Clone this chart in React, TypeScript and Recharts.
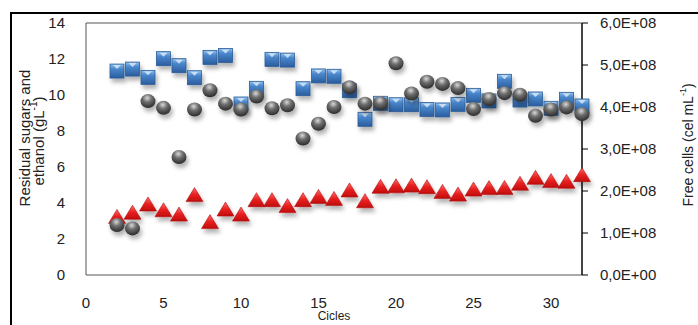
import React from 'react'
import { ScatterChart, Scatter, XAxis, YAxis, ReferenceArea } from 'recharts'

const cycles = [2, 3, 4, 5, 6, 7, 8, 9, 10, 11, 12, 13, 14, 15, 16, 17, 18, 19, 20, 21, 22, 23, 24, 25, 26, 27, 28, 29, 30, 31, 32]

// residual sugars (g/L), left axis
const sugars = [11.33, 11.44, 10.98, 12.02, 11.63, 10.96, 12.09, 12.2, 9.5, 10.37, 11.98, 11.94, 10.35, 11.06, 11.04, 10.24, 8.65, 9.54, 9.46, 9.46, 9.2, 9.17, 9.48, 9.98, 9.67, 10.76, 9.72, 9.78, 9.26, 9.76, 9.39]

// ethanol (g/L), left axis
const ethanol = [3.2, 3.43, 3.89, 3.57, 3.33, 4.41, 2.91, 3.61, 3.33, 4.13, 4.13, 3.8, 4.13, 4.31, 4.2, 4.67, 4.07, 4.87, 4.9, 4.94, 4.85, 4.59, 4.44, 4.72, 4.8, 4.81, 5.04, 5.37, 5.19, 5.15, 5.52]

// free cells (cel/mL), right axis
const cells = [1.19e8, 1.11e8, 4.14e8, 3.98e8, 2.81e8, 3.94e8, 4.4e8, 4.08e8, 3.94e8, 4.25e8, 3.97e8, 4.04e8, 3.25e8, 3.6e8, 4.0e8, 4.47e8, 4.08e8, 4.09e8, 5.04e8, 4.32e8, 4.6e8, 4.55e8, 4.45e8, 3.95e8, 4.19e8, 4.33e8, 4.29e8, 3.79e8, 3.94e8, 3.99e8, 3.83e8]

const xTicks = [0, 5, 10, 15, 20, 25, 30]
const leftTicks = [0, 2, 4, 6, 8, 10, 12, 14]
const rightTicks = [0, 1e8, 2e8, 3e8, 4e8, 5e8, 6e8]

const sugarData = cycles.map((c, i) => ({ x: c, y: sugars[i] }))
const ethanolData = cycles.map((c, i) => ({ x: c, y: ethanol[i] }))
const cellData = cycles.map((c, i) => ({ x: c, y: cells[i] }))

const sciFormat = (v: number) => {
  if (v === 0) return '0,0E+00'
  const exp = Math.floor(Math.log10(v))
  const mant = (v / Math.pow(10, exp)).toFixed(1).replace('.', ',')
  return `${mant}E+${String(exp).padStart(2, '0')}`
}

const Square = (props: any) => {
  const { cx, cy } = props
  if (cx == null || cy == null) return null
  return (
    <g filter="url(#markShadow)">
      <rect x={cx - 7} y={cy - 7} width={14} height={14} fill="url(#gBlue)" stroke="#2b5c96" strokeWidth={0.8} />
      <polygon points={`${cx - 4},${cy - 6} ${cx + 4},${cy - 6} ${cx},${cy - 2}`} fill="#d6e8f8" opacity={0.85} />
    </g>
  )
}

const Sphere = (props: any) => {
  const { cx, cy } = props
  if (cx == null || cy == null) return null
  return (
    <g filter="url(#markShadow)">
      <ellipse cx={cx} cy={cy} rx={7.5} ry={7} fill="url(#gGray)" />
    </g>
  )
}

const Triangle = (props: any) => {
  const { cx, cy } = props
  if (cx == null || cy == null) return null
  return (
    <g filter="url(#markShadow)">
      <polygon
        points={`${cx},${cy - 8} ${cx + 8.5},${cy + 6} ${cx - 8.5},${cy + 6}`}
        fill="url(#gRed)"
        stroke="#b01010"
        strokeWidth={0.6}
      />
    </g>
  )
}

const tickStyle = { fill: '#222', fontSize: 15 }

export default function App() {
  return (
    <div style={{ position: 'absolute', left: 0, top: 0, width: 698, height: 325, background: '#fff', fontFamily: '"Liberation Sans", Arial, sans-serif', overflow: 'hidden' }}>
      <svg width={0} height={0} style={{ position: 'absolute' }}>
        <defs>
          <filter id="markShadow" x="-60%" y="-60%" width="240%" height="240%">
            <feDropShadow dx="2" dy="4" stdDeviation="2.2" floodColor="#000" floodOpacity="0.3" />
          </filter>
          <linearGradient id="gBlue" x1="0" y1="0" x2="0" y2="1">
            <stop offset="0" stopColor="#8fbfee" />
            <stop offset="0.35" stopColor="#4a86cc" />
            <stop offset="1" stopColor="#2a5d9e" />
          </linearGradient>
          <radialGradient id="gGray" cx="0.45" cy="0.28" r="0.75">
            <stop offset="0" stopColor="#d8d8d8" />
            <stop offset="0.4" stopColor="#6e6e6e" />
            <stop offset="1" stopColor="#262626" />
          </radialGradient>
          <linearGradient id="gRed" x1="0" y1="0" x2="0" y2="1">
            <stop offset="0" stopColor="#ff6a6a" />
            <stop offset="0.5" stopColor="#e82020" />
            <stop offset="1" stopColor="#c00c0c" />
          </linearGradient>
        </defs>
      </svg>

      <ScatterChart width={698} height={325} margin={{ top: 23, right: 0, bottom: 0, left: 0 }}>
        <XAxis
          type="number"
          dataKey="x"
          domain={[0, 32]}
          ticks={xTicks}
          interval={0}
          axisLine={false}
          tickLine={false}
          tickSize={20}
          tickMargin={2}
          tick={tickStyle}
          height={50}
        />
        <YAxis
          yAxisId="left"
          type="number"
          dataKey="y"
          domain={[0, 14]}
          ticks={leftTicks}
          interval={0}
          axisLine={false}
          tickLine={false}
          tickSize={19}
          tickMargin={2}
          tick={tickStyle}
          width={86}
        />
        <YAxis
          yAxisId="right"
          orientation="right"
          type="number"
          dataKey="y"
          domain={[0, 6e8]}
          ticks={rightTicks}
          interval={0}
          tickFormatter={sciFormat}
          axisLine={{ stroke: '#000', strokeWidth: 1.2 }}
          tickLine={{ stroke: '#000' }}
          tickSize={6}
          tickMargin={12}
          tick={tickStyle}
          width={116}
        />
        <ReferenceArea yAxisId="left" x1={0} x2={32} y1={0} y2={14} fill="none" stroke="#555" strokeWidth={1} />
        <Scatter yAxisId="left" data={sugarData} shape={Square} isAnimationActive={false} />
        <Scatter yAxisId="left" data={ethanolData} shape={Triangle} isAnimationActive={false} />
        <Scatter yAxisId="right" data={cellData} shape={Sphere} isAnimationActive={false} />
      </ScatterChart>

      <svg width={698} height={325} style={{ position: 'absolute', left: 0, top: 0, pointerEvents: 'none' }}>
        <line x1={11} y1={13} x2={698} y2={13} stroke="#000" strokeWidth={2} />
        <line x1={11} y1={12} x2={11} y2={325} stroke="#000" strokeWidth={2} />
        <text transform="translate(24,138) rotate(-90)" textAnchor="middle" dominantBaseline="central" fontSize={15} fill="#222">
          Residual sugars and
        </text>
        <text transform="translate(38,141) rotate(-90)" textAnchor="middle" dominantBaseline="central" fontSize={15} fill="#222">
          {'ethanol  (gL'}
          <tspan fontSize={10} dy={-5}>-1</tspan>
          <tspan dy={5}>)</tspan>
        </text>
        <text transform="translate(688,145) rotate(-90)" textAnchor="middle" dominantBaseline="central" fontSize={14} fill="#222">
          {'Free cells  (cel mL'}
          <tspan fontSize={9} dy={-5}>-1</tspan>
          <tspan dy={5}>)</tspan>
        </text>
        <text x={334} y={320} textAnchor="middle" fontSize={12} fill="#222">
          Cicles
        </text>
      </svg>
    </div>
  )
}
